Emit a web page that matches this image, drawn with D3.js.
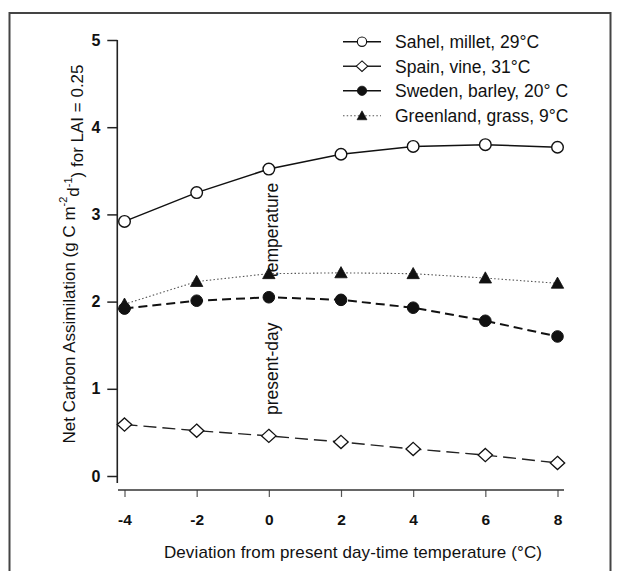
<!DOCTYPE html>
<html>
<head>
<meta charset="utf-8">
<script src="https://cdn.jsdelivr.net/npm/d3@7"></script>
<style>
  html, body { margin: 0; padding: 0; background: #fff; }
  svg { display: block; }
  text { font-family: "Liberation Sans", Arial, Helvetica, sans-serif; fill: #111; }
</style>
</head>
<body>
<svg id="chart" width="620" height="571"></svg>
<script>
// ---- data ----
const deviations = [-4, -2, 0, 2, 4, 6, 8];
const sahelMillet   = [2.92, 3.25, 3.52, 3.69, 3.78, 3.80, 3.77];
const spainVine     = [0.59, 0.52, 0.46, 0.39, 0.31, 0.24, 0.15];
const swedenBarley  = [1.92, 2.01, 2.05, 2.02, 1.93, 1.78, 1.60];
const greenlandGrass= [1.97, 2.23, 2.32, 2.33, 2.32, 2.27, 2.21];
const seriesNames = ["Sahel, millet, 29°C", "Spain, vine, 31°C", "Sweden, barley, 20° C", "Greenland, grass, 9°C"];
const xTicks = [-4, -2, 0, 2, 4, 6, 8];
const yTicks = [0, 1, 2, 3, 4, 5];

const series = [
  { name: seriesNames[0], values: sahelMillet,    marker: "circleOpen",  dash: null,     width: 1.5, color: "#111" },
  { name: seriesNames[1], values: spainVine,      marker: "diamondOpen", dash: "13,6",   width: 1.4, color: "#222" },
  { name: seriesNames[2], values: swedenBarley,   marker: "circleFill",  dash: "9,5",    width: 2.0, color: "#111" },
  { name: seriesNames[3], values: greenlandGrass, marker: "triangle",    dash: "1.5,2.2",width: 1.1, color: "#555" }
];

const svg = d3.select("#chart");

// frame
svg.append("rect")
  .attr("x", 9.5).attr("y", 13).attr("width", 601).attr("height", 600)
  .attr("fill", "none").attr("stroke", "#444").attr("stroke-width", 2);

const x = d3.scaleLinear().domain([-4, 8]).range([124.5, 557.5]);
const y = d3.scaleLinear().domain([0, 5]).range([476, 40]);

const yAxisX = x(-4.2);
const xAxisY = y(-0.16);

// y axis
const gy = svg.append("g").attr("transform", `translate(${yAxisX},0)`)
  .call(d3.axisLeft(y).tickValues(yTicks).tickFormat(d => String(d)).tickSize(10).tickPadding(7).tickSizeOuter(0));
gy.select(".domain").remove();
gy.append("line").attr("x1", 0).attr("x2", 0).attr("y1", y(5)).attr("y2", y(-0.08))
  .attr("stroke", "#222").attr("stroke-width", 1.6);
gy.selectAll(".tick line").attr("stroke", "#222").attr("stroke-width", 1.5);
gy.selectAll(".tick text").attr("font-size", 16).attr("font-weight", "bold").attr("fill", "#111")
  .style("font-family", "'Liberation Sans', Arial, sans-serif");

// x axis
const gx = svg.append("g").attr("transform", `translate(0,${xAxisY})`)
  .call(d3.axisBottom(x).tickValues(xTicks).tickFormat(d => String(d)).tickSize(7).tickPadding(17).tickSizeOuter(0));
gx.select(".domain").remove();
gx.append("line").attr("x1", x(-4.18)).attr("x2", x(8.18)).attr("y1", 0).attr("y2", 0)
  .attr("stroke", "#333").attr("stroke-width", 1.6);
gx.selectAll(".tick line").attr("stroke", "#555").attr("stroke-width", 1.2);
gx.selectAll(".tick text").attr("font-size", 15.5).attr("font-weight", "bold").attr("fill", "#111")
  .style("font-family", "'Liberation Sans', Arial, sans-serif");

// axis titles
svg.append("text")
  .attr("x", 353).attr("y", 558)
  .attr("text-anchor", "middle").attr("font-size", 17).attr("letter-spacing", 0.12)
  .text("Deviation from present day-time temperature (°C)");

const yt = svg.append("text")
  .attr("transform", `translate(75,${(y(5) + y(0)) / 2 - 4}) rotate(-90)`)
  .attr("text-anchor", "middle").attr("font-size", 17);
yt.append("tspan").text("Net Carbon Assimilation (g C m");
yt.append("tspan").attr("font-size", 11).attr("dy", "-0.7em").text("-2");
yt.append("tspan").attr("dy", "0.7em").text("d");
yt.append("tspan").attr("font-size", 11).attr("dy", "-0.7em").text("-1");
yt.append("tspan").attr("dy", "0.7em").text(") for LAI = 0.25");

// annotations
svg.append("text")
  .attr("transform", `translate(${x(0) + 9},${y(2.28)}) rotate(-90)`)
  .attr("font-size", 17.5).text("temperature");
svg.append("text")
  .attr("transform", `translate(${x(0) + 9},${y(0.70)}) rotate(-90)`)
  .attr("font-size", 17.5).text("present-day");

// marker drawing
function drawMarker(g, type, cx, cy) {
  if (type === "circleOpen") {
    g.append("circle").attr("cx", cx).attr("cy", cy).attr("r", 5.8)
      .attr("fill", "#fff").attr("stroke", "#111").attr("stroke-width", 1.4);
  } else if (type === "circleFill") {
    g.append("circle").attr("cx", cx).attr("cy", cy).attr("r", 5.8)
      .attr("fill", "#111").attr("stroke", "#111").attr("stroke-width", 1);
  } else if (type === "diamondOpen") {
    const w = 7.2, h = 6.6;
    g.append("path")
      .attr("d", `M${cx},${cy - h}L${cx + w},${cy}L${cx},${cy + h}L${cx - w},${cy}Z`)
      .attr("fill", "#fff").attr("stroke", "#111").attr("stroke-width", 1.3);
  } else if (type === "triangle") {
    const s = 6.2;
    g.append("path")
      .attr("d", `M${cx},${cy - s}L${cx + s},${cy + s * 0.8}L${cx - s},${cy + s * 0.8}Z`)
      .attr("fill", "#111").attr("stroke", "#111").attr("stroke-width", 0.8);
  }
}

const line = d3.line().x(d => x(d[0])).y(d => y(d[1]));

// draw series (lines first, then markers)
series.forEach(s => {
  const pts = deviations.map((d, i) => [d, s.values[i]]);
  svg.append("path").datum(pts)
    .attr("d", line)
    .attr("fill", "none")
    .attr("stroke", s.color)
    .attr("stroke-width", s.width)
    .attr("stroke-dasharray", s.dash);
});
series.forEach(s => {
  const g = svg.append("g");
  deviations.forEach((d, i) => drawMarker(g, s.marker, x(d), y(s.values[i])));
});

// legend
const legendY = [41.7, 66.2, 90.8, 115.8];
series.forEach((s, i) => {
  const g = svg.append("g");
  const ly = legendY[i];
  g.append("line").attr("x1", 343).attr("x2", 381).attr("y1", ly).attr("y2", ly)
    .attr("stroke", s.color).attr("stroke-width", i === 3 ? 1.1 : 1.5)
    .attr("stroke-dasharray", i === 3 ? "1.5,2.2" : null);
  const scaleFactor = 0.8;
  const mg = g.append("g").attr("transform", `translate(362,${ly}) scale(${scaleFactor}) translate(-362,${-ly})`);
  drawMarker(mg, s.marker, 362, ly);
  g.append("text").attr("x", 395).attr("y", ly).attr("dy", "0.36em")
    .attr("font-size", 17.5).text(s.name);
});
</script>
</body>
</html>
